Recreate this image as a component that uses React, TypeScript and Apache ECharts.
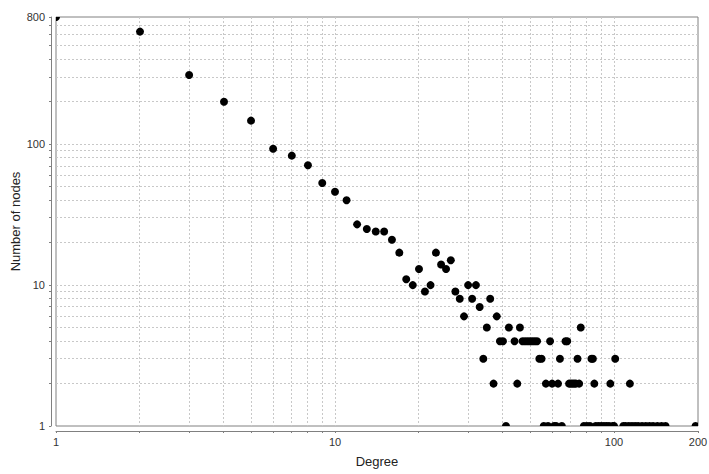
import React, { useEffect, useRef } from "react";
import * as echarts from "echarts";

// Degree distribution: number of nodes per degree (log–log)
const degrees = [
  1, 2, 3, 4, 5, 6, 7, 8, 9, 10,
  11, 12, 13, 14, 15, 16, 17, 18, 19, 20,
  21, 22, 23, 24, 25, 26, 27, 28, 29, 30,
  31, 32, 33, 34, 35, 36, 37, 38, 39, 40,
  41, 42, 44, 45, 46, 47, 48, 49, 50, 51,
  52, 53, 54, 55, 56, 57, 58, 59, 60, 61,
  62, 63, 64, 65, 67, 68, 69, 70, 71, 72,
  73, 74, 75, 76, 78, 80, 82, 83, 84, 85,
  86, 88, 90, 92, 94, 96, 97, 99, 100, 101,
  108, 110, 113, 114, 116, 119, 122, 126, 130, 134,
  138, 143, 148, 153, 196,
];
const nodeCounts = [
  800, 630, 310, 200, 147, 93, 83, 71, 53, 46,
  40, 27, 25, 24, 24, 21, 17, 11, 10, 13,
  9, 10, 17, 14, 13, 15, 9, 8, 6, 10,
  8, 10, 7, 3, 5, 8, 2, 6, 4, 4,
  1, 5, 4, 2, 5, 4, 4, 4, 4, 4,
  4, 4, 3, 3, 1, 2, 1, 4, 2, 1,
  1, 2, 3, 1, 4, 4, 2, 2, 2, 2,
  2, 3, 2, 5, 1, 1, 1, 3, 3, 2,
  1, 1, 1, 1, 1, 1, 2, 1, 1, 3,
  1, 1, 1, 2, 1, 1, 1, 1, 1, 1,
  1, 1, 1, 1, 1,
];

// Tick / gridline positions (labels appear only at 1, 10, 100 and the axis ends)
const xTickValues = [1, 2, 3, 4, 5, 6, 7, 8, 9, 10, 20, 30, 40, 50, 60, 70, 80, 90, 100, 200];
const yTickValues = [
  1, 2, 3, 4, 5, 6, 7, 8, 9, 10, 20, 30, 40, 50, 60, 70, 80, 90,
  100, 200, 300, 400, 500, 600, 700, 800,
];

const X_MIN = 1;
const X_MAX = 200;
const Y_MIN = 1;
const Y_MAX = 800;

const FONT = '"Liberation Sans", Arial, sans-serif';
const AXIS_COLOR = "#808080";
const GRID_COLOR = "#c8c8c8";
const AXIS_OFFSET = 5;

const crisp = (v: number) => Math.round(v - 0.5) + 0.5;

export default function App() {
  const ref = useRef<HTMLDivElement>(null);

  useEffect(() => {
    if (!ref.current) return;
    const chart = echarts.init(ref.current, null, { renderer: "svg" });

    const labelStyle = { fontSize: 11, color: "#333333", fontFamily: FONT };
    const nameStyle = { fontSize: 13, color: "#222222", fontFamily: FONT };

    const option: any = {
      animation: false,
      backgroundColor: "#ffffff",
      grid: {
        left: 56,
        right: 11,
        top: 17,
        bottom: 48,
        containLabel: false,
        outerBoundsMode: "none",
        show: true,
        backgroundColor: "#ffffff",
        borderColor: AXIS_COLOR,
        borderWidth: 1,
      },
      xAxis: {
        type: "log",
        logBase: 10,
        min: X_MIN,
        max: X_MAX,
        offset: AXIS_OFFSET,
        name: "Degree",
        nameLocation: "middle",
        nameGap: 24,
        nameTextStyle: nameStyle,
        axisLine: { show: true, lineStyle: { color: AXIS_COLOR, width: 1 } },
        axisTick: { show: false },
        splitLine: { show: false },
        minorTick: { show: false },
        axisLabel: { ...labelStyle, margin: 5 },
      },
      yAxis: {
        type: "log",
        logBase: 10,
        min: Y_MIN,
        max: Y_MAX,
        offset: AXIS_OFFSET,
        name: "Number of nodes",
        nameLocation: "middle",
        nameGap: 29,
        nameMoveOverlap: false,
        nameTextStyle: nameStyle,
        axisLine: { show: true, lineStyle: { color: AXIS_COLOR, width: 1 } },
        axisTick: { show: false },
        splitLine: { show: false },
        minorTick: { show: false },
        axisLabel: { ...labelStyle, margin: 6 },
      },
      series: [
        {
          // vertical dashed gridlines + ticks under the x axis
          type: "custom",
          name: "xGrid",
          silent: true,
          clip: false,
          z: 1,
          data: xTickValues.map((v) => [v, Y_MIN]),
          renderItem: (_params: any, api: any) => {
            const v = api.value(0);
            const b = api.coord([v, Y_MIN]);
            const t = api.coord([v, Y_MAX]);
            const x = crisp(b[0]);
            const children: any[] = [
              {
                type: "line",
                shape: { x1: x, y1: b[1] + AXIS_OFFSET, x2: x, y2: b[1] + AXIS_OFFSET + 2 },
                style: { stroke: AXIS_COLOR, lineWidth: 1 },
              },
            ];
            if (v > X_MIN && v < X_MAX) {
              children.push({
                type: "line",
                shape: { x1: x, y1: t[1], x2: x, y2: b[1] },
                style: { stroke: GRID_COLOR, lineWidth: 1, lineDash: [2, 2] },
              });
            }
            return { type: "group", children };
          },
        },
        {
          // horizontal dashed gridlines + ticks left of the y axis
          type: "custom",
          name: "yGrid",
          silent: true,
          clip: false,
          z: 1,
          data: yTickValues.map((v) => [X_MIN, v]),
          renderItem: (_params: any, api: any) => {
            const v = api.value(1);
            const l = api.coord([X_MIN, v]);
            const r = api.coord([X_MAX, v]);
            const y = crisp(l[1]);
            const children: any[] = [
              {
                type: "line",
                shape: { x1: l[0] - AXIS_OFFSET - 2, y1: y, x2: l[0] - AXIS_OFFSET, y2: y },
                style: { stroke: AXIS_COLOR, lineWidth: 1 },
              },
            ];
            if (v > Y_MIN && v < Y_MAX) {
              children.push({
                type: "line",
                shape: { x1: l[0], y1: y, x2: r[0], y2: y },
                style: { stroke: GRID_COLOR, lineWidth: 1, lineDash: [2, 2] },
              });
            }
            return { type: "group", children };
          },
        },
        {
          // data points, clipped to the plot rectangle
          type: "custom",
          name: "Nodes",
          clip: true,
          z: 3,
          data: degrees.map((d, i) => [d, nodeCounts[i]]),
          renderItem: (_params: any, api: any) => {
            const p = api.coord([api.value(0), api.value(1)]);
            return {
              type: "circle",
              shape: { cx: p[0], cy: p[1], r: 4 },
              style: { fill: "#000000" },
            };
          },
        },
      ],
    };

    chart.setOption(option);
    return () => chart.dispose();
  }, []);

  return (
    <div
      ref={ref}
      style={{ position: "fixed", left: 0, top: 0, width: 709, height: 474, background: "#fff" }}
    />
  );
}
